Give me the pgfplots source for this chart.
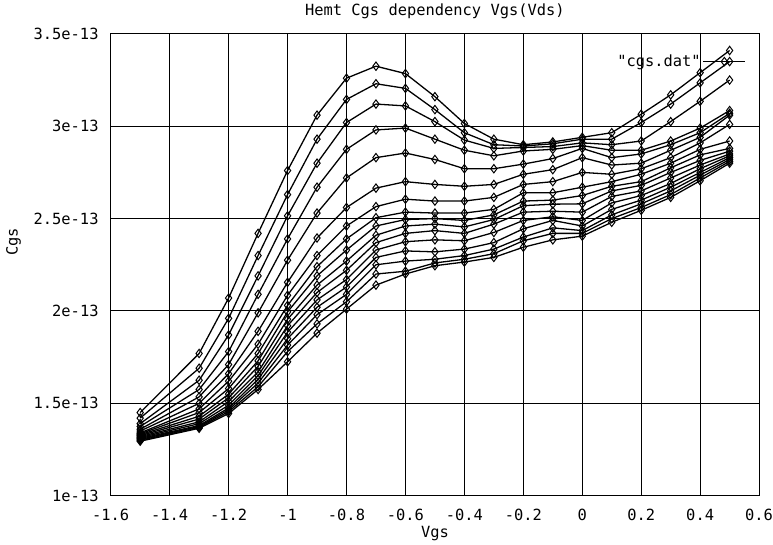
\documentclass[border=0pt]{standalone}
\usepackage{pgfplots}
\pgfplotsset{compat=1.18}
\usepackage{pgfplotstable}
\usepackage{fontspec}
\setmainfont{DejaVu Sans Mono}[Ligatures=TeXOff]

% Cgs in units of 1e-13 F, one column per Vds curve
\pgfplotstableread{
x    c1    c2    c3    c4    c5    c6    c7    c8    c9    c10   c11   c12   c13   c14   c15   c16
-1.5 1.45  1.42  1.39  1.375 1.36  1.35  1.34  1.335 1.33  1.325 1.32  1.315 1.31  1.305 1.30  1.295
-1.3 1.77  1.69  1.625 1.575 1.535 1.50  1.47  1.45  1.43  1.415 1.40  1.39  1.38  1.375 1.37  1.365
-1.2 2.07  1.96  1.87  1.78  1.71  1.66  1.62  1.58  1.55  1.53  1.51  1.49  1.475 1.465 1.455 1.445
-1.1 2.42  2.30  2.19  2.09  1.99  1.89  1.82  1.77  1.73  1.70  1.67  1.65  1.63  1.61  1.59  1.575
-1.0 2.76  2.63  2.515 2.39  2.275 2.155 2.085 2.03  1.995 1.955 1.92  1.885 1.85  1.815 1.78  1.725
-0.9 3.06  2.93  2.80  2.67  2.53  2.395 2.30  2.24  2.19  2.14  2.10  2.06  2.02  1.98  1.93  1.88
-0.8 3.26  3.145 3.02  2.875 2.72  2.56  2.46  2.39  2.33  2.27  2.22  2.17  2.13  2.09  2.05  2.01
-0.7 3.325 3.23  3.12  2.98  2.83  2.665 2.565 2.505 2.46  2.41  2.37  2.33  2.29  2.25  2.20  2.14
-0.6 3.285 3.205 3.11  2.99  2.855 2.70  2.605 2.535 2.495 2.46  2.42  2.375 2.325 2.27  2.215 2.20
-0.5 3.16  3.09  3.025 2.93  2.82  2.685 2.595 2.53  2.50  2.47  2.435 2.385 2.32  2.28  2.26  2.245
-0.4 3.015 2.965 2.925 2.87  2.77  2.675 2.595 2.53  2.49  2.455 2.42  2.38  2.335 2.30  2.28  2.265
-0.3 2.93  2.90  2.88  2.84  2.77  2.685 2.615 2.55  2.52  2.495 2.47  2.425 2.37  2.335 2.31  2.29
-0.2 2.90  2.893 2.885 2.866 2.795 2.74  2.685 2.64  2.595 2.57  2.535 2.49  2.445 2.40  2.38  2.345
-0.1 2.915 2.905 2.89  2.875 2.825 2.765 2.70  2.64  2.60  2.578 2.54  2.51  2.49  2.45  2.42  2.385
0.0  2.94  2.93  2.91  2.895 2.88  2.83  2.75  2.67  2.625 2.58  2.535 2.49  2.46  2.435 2.42  2.405
0.1  2.965 2.93  2.90  2.87  2.83  2.79  2.74  2.70  2.675 2.65  2.62  2.585 2.55  2.52  2.50  2.48
0.2  3.065 3.02  2.92  2.87  2.85  2.80  2.77  2.74  2.70  2.68  2.65  2.625 2.60  2.58  2.56  2.545
0.3  3.17  3.12  3.025 2.92  2.90  2.87  2.83  2.80  2.775 2.75  2.72  2.69  2.67  2.65  2.63  2.615
0.4  3.29  3.235 3.135 2.99  2.965 2.94  2.91  2.875 2.845 2.815 2.79  2.77  2.75  2.735 2.72  2.705
0.5  3.41  3.35  3.25  3.085 3.07  3.06  3.01  2.92  2.88  2.865 2.85  2.84  2.83  2.82  2.81  2.80
}\cgs

\begin{document}
\begin{tikzpicture}[
    curve/.style={black, line width=1.3pt, mark=diamond, mark size=4.2bp,
        mark options={solid, fill=white, line width=1pt}}]
\begin{axis}[
    scale only axis,
    width=650bp, height=463bp,
    xmin=-1.6, xmax=0.6,
    ymin=1, ymax=3.5,
    xtick={-1.6,-1.4,-1.2,-1,-0.8,-0.6,-0.4,-0.2,0,0.2,0.4,0.6},
    xticklabels={-1.6,-1.4,-1.2,-1,-0.8,-0.6,-0.4,-0.2,0,0.2,0.4,0.6},
    ytick={1,1.5,2,2.5,3,3.5},
    yticklabels={1e-13,1.5e-13,2e-13,2.5e-13,3e-13,3.5e-13},
    major tick length=0pt,
    grid=major,
    grid style={black, line width=1pt},
    axis line style={black, line width=1.1pt},
    tick label style={font=\fontsize{15.5}{17}\selectfont, inner sep=0pt},
    xticklabel style={anchor=base, yshift=-25bp},
    yticklabel style={anchor=east, xshift=-12bp},
    title={Hemt Cgs dependency Vgs(Vds)},
    title style={font=\fontsize{15.5}{17}\selectfont, at={(axis description cs:0.5,1.037)}, anchor=center},
    xlabel={Vgs},
    xlabel style={font=\fontsize{15.5}{17}\selectfont, at={(axis description cs:0.5,-0.082)}, anchor=center},
    ylabel={Cgs},
    ylabel style={font=\fontsize{15.5}{17}\selectfont, at={(axis description cs:-0.15,0.55)}, anchor=center},
    legend style={draw=none, fill=none, at={(rel axis cs:0.98,0.94)}, anchor=east,
                  font=\fontsize{15.5}{17}\selectfont, inner sep=0pt},
    legend plot pos=right,
    legend image code/.code={
        \draw[#1, mark repeat=2, mark phase=2] plot coordinates {(0bp,0bp) (21bp,0bp) (42bp,0bp)};
    },
]
\addplot[curve] table[x=x, y=c1] {\cgs};
\addlegendentry{"cgs.dat"}
\pgfplotsinvokeforeach{2,...,16}{
    \addplot[curve, forget plot] table[x=x, y=c#1] {\cgs};
}
\end{axis}
\path ([xshift=-111bp, yshift=-48bp]current axis.south west)
      rectangle ([xshift=12bp, yshift=29bp]current axis.north east);
\end{tikzpicture}
\end{document}
